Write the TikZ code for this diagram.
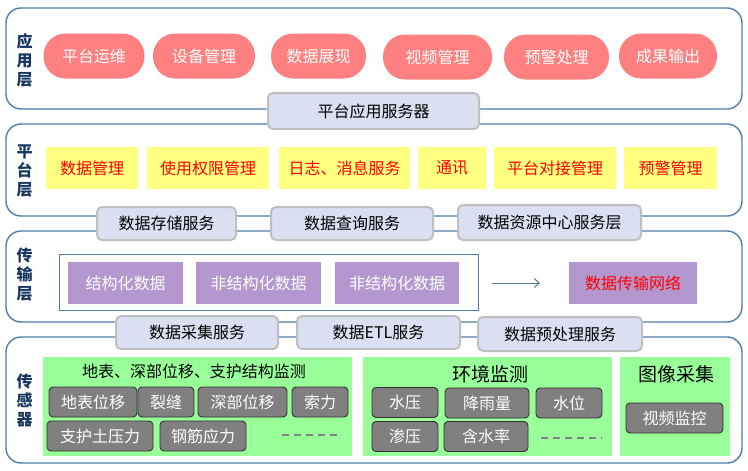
\documentclass[tikz,border=0pt]{standalone}
\usepackage{fontspec}
\setmainfont{Noto Sans CJK SC}
\usetikzlibrary{arrows.meta}
\definecolor{framec}{RGB}{80,125,170}
\definecolor{pillc}{RGB}{255,128,128}
\definecolor{svcc}{RGB}{218,224,242}
\definecolor{svcb}{RGB}{191,191,191}
\definecolor{yelc}{RGB}{255,255,128}
\definecolor{purc}{RGB}{180,151,207}
\definecolor{greenc}{RGB}{153,255,153}
\definecolor{greyc}{RGB}{128,128,128}
\definecolor{greyb}{RGB}{50,50,50}
\definecolor{labc}{RGB}{23,55,94}
\definecolor{arrc}{RGB}{84,120,160}
\begin{document}
\begin{tikzpicture}[x=1pt,y=-1pt,font=\fontsize{16}{18}\selectfont,
 frame/.style={draw=framec,line width=1.4pt,rounded corners=15pt,inner sep=0pt},
 pill/.style={fill=pillc,text=white,rounded corners=22pt,minimum height=45pt,inner sep=0pt},
 svc/.style={fill=svcc,draw=svcb,line width=2pt,rounded corners=5pt,inner sep=0pt,minimum height=34pt},
 ybox/.style={fill=yelc,text=red,minimum height=42pt,inner sep=0pt},
 pbox/.style={fill=purc,text=white,minimum height=42pt,inner sep=0pt},
 gbox/.style={fill=greenc,inner sep=0pt,minimum height=99pt},
 sbox/.style={fill=greyc,draw=greyb,line width=0.9pt,rounded corners=4pt,text=white,minimum height=30pt,inner sep=0pt},
 lab/.style={font=\fontsize{16}{19}\selectfont\bfseries,text=labc,align=center},
 dashline/.style={draw=greyc,line width=1.5pt,dash pattern=on 7pt off 5pt}
]
\useasboundingbox (0,0) rectangle (748,471);
% layer frames
\node[frame,minimum width=736pt,minimum height=101pt] (fapp) at (374,58.5) {};
\node[frame,minimum width=736pt,minimum height=92pt] (fplat) at (374,170) {};
\node[frame,minimum width=736pt,minimum height=91pt] (ftran) at (374,276.5) {};
\node[frame,minimum width=736pt,minimum height=126pt] (fsens) at (374,400) {};
% layer labels
\node[lab] (lapp) at (24.5,60) {应\\用\\层};
\node[lab] (lplat) at (24.5,171) {平\\台\\层};
\node[lab] (ltran) at (24.5,275) {传\\输\\层};
\node[lab] (lsens) at (24.5,400) {传\\感\\器};
% application layer
\node[pill,minimum width=101pt] (p1) at (94,56) {平台运维};
\node[pill,minimum width=102pt] (p2) at (204,56) {设备管理};
\node[pill,minimum width=95pt] (p3) at (318.5,56) {数据展现};
\node[pill,minimum width=109pt] (p4) at (437.5,57) {视频管理};
\node[pill,minimum width=105pt] (p5) at (556.5,57) {预警处理};
\node[pill,minimum width=98pt] (p6) at (668,56) {成果输出};
% platform layer
\node[ybox,minimum width=92pt] (y1) at (92,168) {数据管理};
\node[ybox,minimum width=122pt] (y2) at (208,168) {使用权限管理};
\node[ybox,minimum width=131pt] (y3) at (344.5,168) {日志、消息服务};
\node[ybox,minimum width=68pt] (y4) at (452,168) {通讯};
\node[ybox,minimum width=122pt] (y5) at (555,168) {平台对接管理};
\node[ybox,minimum width=93pt] (y6) at (670.5,168) {预警管理};
% transport layer
\node[draw=framec,line width=0.8pt,minimum width=419pt,minimum height=56pt,inner sep=0pt] (trbox) at (268.5,282) {};
\node[pbox,minimum width=115pt] (u1) at (125.5,283) {结构化数据};
\node[pbox,minimum width=125pt] (u2) at (258.5,283) {非结构化数据};
\node[pbox,minimum width=124pt] (u3) at (397,283) {非结构化数据};
\node[pbox,minimum width=128pt,text=red] (u4) at (633,283) {数据传输网络};
\coordinate (a1) at (492,283);
\coordinate (a2) at (540,283);
\draw[arrc,line width=1pt,-{Straight Barb[length=5pt,width=9pt]}] (a1) -- (a2);
% sensor layer
\node[gbox,minimum width=309pt] (g1) at (197.5,406.5) {};
\node[gbox,minimum width=249pt] (g2) at (487.5,406.5) {};
\node[gbox,minimum width=110pt] (g3) at (675,406.5) {};
\node (t1) at (194,371) {地表、深部位移、支护结构监测};
\node[font=\fontsize{19}{20}\selectfont] (t2) at (490,374) {环境监测};
\node[font=\fontsize{19}{20}\selectfont] (t3) at (676,374) {图像采集};
\node[sbox,minimum width=88pt] (s1) at (93,402) {地表位移};
\node[sbox,minimum width=56pt] (s2) at (166,402) {裂缝};
\node[sbox,minimum width=89pt] (s3) at (242.5,402) {深部位移};
\node[sbox,minimum width=56pt] (s4) at (320,402) {索力};
\node[sbox,minimum width=106pt] (s5) at (100,436) {支护土压力};
\node[sbox,minimum width=86pt] (s6) at (203,436) {钢筋应力};
\coordinate (d1a) at (282,435);
\coordinate (d1b) at (342,435);
\draw[dashline] (d1a) -- (d1b);
\node[sbox,minimum width=66pt] (e1) at (405,402.5) {水压};
\node[sbox,minimum width=84pt] (e2) at (487,403) {降雨量};
\node[sbox,minimum width=66pt] (e3) at (569,403) {水位};
\node[sbox,minimum width=66pt] (e4) at (405,436.5) {渗压};
\node[sbox,minimum width=84pt] (e5) at (486,436.5) {含水率};
\coordinate (d2a) at (541,438);
\coordinate (d2b) at (602,438);
\draw[dashline] (d2a) -- (d2b);
\node[sbox,minimum width=97pt] (v1) at (674.5,418) {视频监控};
% service boxes
\node[svc,minimum width=211pt,minimum height=36pt] (sv1) at (373.5,111) {平台应用服务器};
\node[svc,minimum width=139pt,minimum height=33pt] (sv2) at (166.5,223.5) {数据存储服务};
\node[svc,minimum width=162pt,minimum height=33pt] (sv3) at (352,223.5) {数据查询服务};
\node[svc,minimum width=183pt,minimum height=35pt] (sv4) at (549.5,222.5) {数据资源中心服务层};
\node[svc,minimum width=162pt,minimum height=33pt] (sv5) at (197,332.5) {数据采集服务};
\node[svc,minimum width=163pt,minimum height=33pt] (sv6) at (378.5,332.5) {数据ETL服务};
\node[svc,minimum width=164pt,minimum height=34pt] (sv7) at (560,334) {数据预处理服务};
\end{tikzpicture}
\end{document}
